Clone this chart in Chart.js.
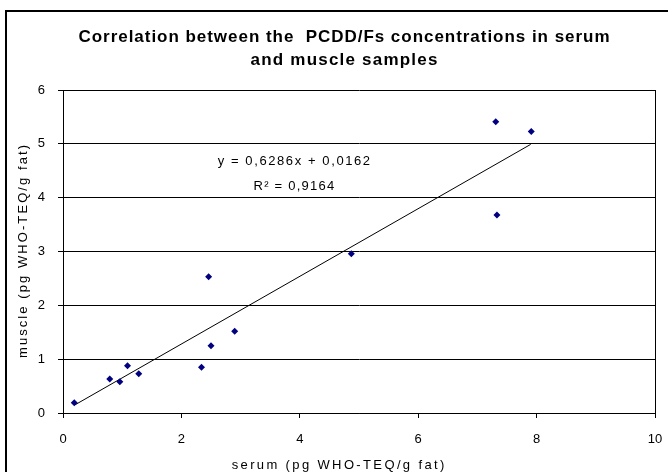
<!DOCTYPE html>
<html>
<head>
<meta charset="utf-8">
<script src="https://cdn.jsdelivr.net/npm/chart.js@4"></script>
<style>
  html, body { margin: 0; padding: 0; background: #fff; }
  canvas { display: block; }
</style>
</head>
<body>
<canvas id="corr" width="668" height="472"></canvas>
<script>
// serum vs muscle
const serumValues = [0.19, 0.79, 0.96, 1.09, 1.28, 2.34, 2.46, 2.50, 2.90, 4.87, 7.31, 7.33, 7.91];
const muscleValues = [0.19, 0.63, 0.58, 0.88, 0.73, 0.85, 2.53, 1.25, 1.52, 2.96, 5.41, 3.68, 5.23];

// trendline ends as drawn
const trendX = [0.20, 7.90];
const trendY = [0.15, 4.99];

const xTicks = [0, 2, 4, 6, 8, 10];
const yTicks = [0, 1, 2, 3, 4, 5, 6];

const titleLines = ['Correlation between the  PCDD/Fs concentrations in serum', 'and muscle samples'];
const equationLines = ['y = 0,6286x + 0,0162', 'R\u00b2 = 0,9164'];
const xTitle = 'serum (pg WHO-TEQ/g fat)';
const yTitle = 'muscle (pg WHO-TEQ/g fat)';

const points = serumValues.map((x, i) => ({ x: x, y: muscleValues[i] }));
const trend = trendX.map((x, i) => ({ x: x, y: trendY[i] }));

const font = 'Arial, "Liberation Sans", sans-serif';

// the reference text is stretched out, so spread letters to the width seen in the picture
function spreadText(c, text, x, y, width) {
  c.letterSpacing = '0px';
  const w = c.measureText(text).width;
  const s = Math.max(0, (width - w) / text.length);
  c.letterSpacing = s + 'px';
  c.fillText(text, x + s / 2, y);
}

// frame, title, axis titles and the trend equation
const extras = {
  id: 'extras',
  beforeDraw(chart) {
    const c = chart.ctx;
    c.save();
    c.fillStyle = '#fff';
    c.fillRect(0, 0, chart.width, chart.height);
    c.restore();
  },
  afterDraw(chart) {
    const c = chart.ctx;
    const area = chart.chartArea;
    c.save();
    c.strokeStyle = '#000';
    c.lineWidth = 2;
    c.strokeRect(6, 11, 700, 500);

    c.fillStyle = '#000';
    c.textAlign = 'center';
    c.textBaseline = 'middle';

    c.font = 'bold 17px ' + font;
    spreadText(c, titleLines[0], 344, 37, 532);
    spreadText(c, titleLines[1], 344, 60, 188);

    c.font = '13px ' + font;
    spreadText(c, xTitle, 338, 465, 215);
    c.save();
    c.translate(23, (area.top + area.bottom) / 2);
    c.rotate(-Math.PI / 2);
    spreadText(c, yTitle, 0, 0, 215);
    c.restore();

    const xs = chart.scales.x, ys = chart.scales.y;
    const cx = xs.getPixelForValue(3.90);
    spreadText(c, equationLines[0], cx, ys.getPixelForValue(4.67), 154);
    spreadText(c, equationLines[1], cx, ys.getPixelForValue(4.20), 82);
    c.restore();
  }
};

new Chart(document.getElementById('corr'), {
  type: 'scatter',
  data: {
    datasets: [
      {
        label: 'samples',
        data: points,
        pointStyle: 'rectRot',
        pointRadius: 3.5,
        pointBackgroundColor: '#000080',
        pointBorderColor: '#000080',
        borderWidth: 0,
        order: 1,
      },
      {
        label: 'trend',
        type: 'line',
        data: trend,
        borderColor: '#000',
        borderWidth: 1,
        pointRadius: 0,
        fill: false,
        order: 2,
      },
    ],
  },
  options: {
    responsive: false,
    animation: false,
    layout: { padding: { left: 6, right: 13, top: 90, bottom: 0 } },
    plugins: {
      legend: { display: false },
      tooltip: { enabled: false },
      title: { display: false },
    },
    scales: {
      x: {
        type: 'linear',
        min: 0,
        max: 10,
        afterBuildTicks: (s) => { s.ticks = xTicks.map((v) => ({ value: v })); },
        afterFit: (s) => { s.height = 59; s.paddingLeft = 0; s.paddingRight = 0; },
        ticks: { color: '#000', font: { family: font, size: 13 }, padding: 14 },
        grid: {
          color: (ctx) => (ctx.tick && ctx.tick.value === 10 ? '#000' : 'rgba(0,0,0,0)'),
          tickColor: '#000',
          tickLength: 5,
          lineWidth: 1,
        },
        border: { color: '#000', width: 1 },
      },
      y: {
        type: 'linear',
        min: 0,
        max: 6,
        afterBuildTicks: (s) => { s.ticks = yTicks.map((v) => ({ value: v })); },
        afterFit: (s) => { s.width = 57; s.paddingTop = 0; s.paddingBottom = 0; },
        ticks: { color: '#000', font: { family: font, size: 13 }, padding: 13 },
        grid: { color: '#000', tickColor: '#000', tickLength: 5, lineWidth: 1 },
        border: { color: '#000', width: 1 },
      },
    },
  },
  plugins: [extras],
});
</script>
</body>
</html>
